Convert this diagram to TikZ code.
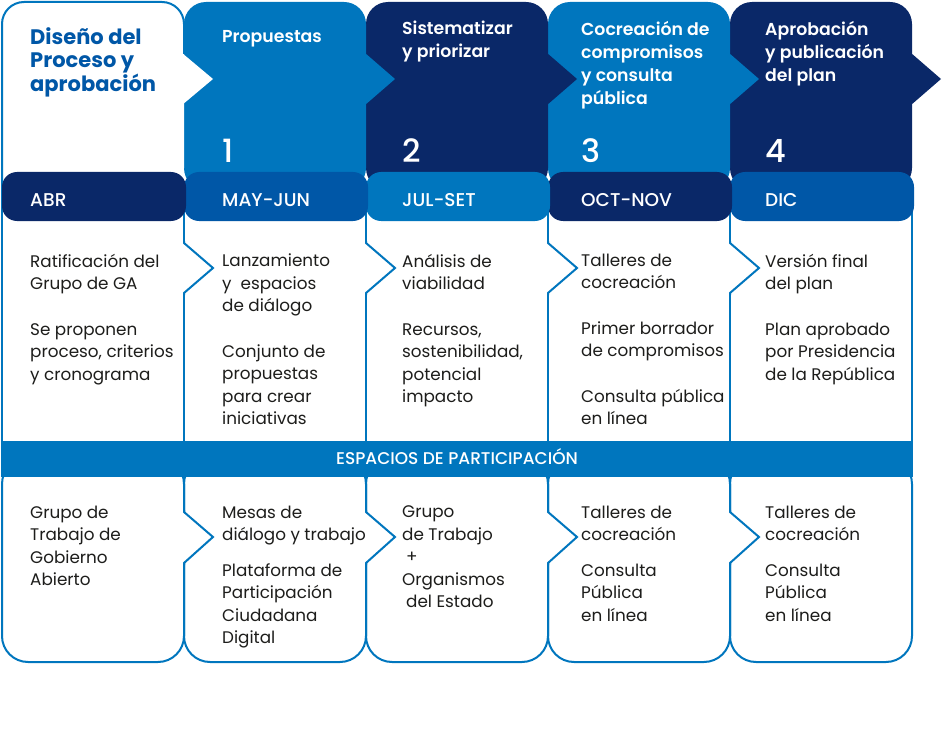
\documentclass[tikz,border=0pt]{standalone}
\usepackage{fontspec}
\setmainfont{Poppins}
\newfontfamily\popmed{Poppins Medium}
\newfontfamily\popsemi{Poppins SemiBold}
\definecolor{gablue}{RGB}{0,118,190}
\definecolor{ganavy}{RGB}{10,40,104}
\definecolor{gamid}{RGB}{0,87,167}
\definecolor{gatext}{RGB}{29,29,27}
\tikzset{
  cellbox/.style={draw=gablue, line width=2pt, fill=white},
  chevline/.style={draw=gablue, line width=2pt, line join=miter},
  hdrzero/.style={anchor=north west, inner sep=0pt, align=left, yshift=16.1pt,
    text=gamid, font=\bfseries\fontsize{21}{23}\selectfont, execute at begin node=\strut},
  hdrtext/.style={anchor=north west, inner sep=0pt, align=left, yshift=16.1pt,
    text=white, font=\popsemi\fontsize{17.3}{23}\selectfont, execute at begin node=\strut},
  bodytext/.style={anchor=north west, inner sep=0pt, align=left, yshift=15.75pt,
    text=gatext, font=\fontsize{16.8}{22.5}\selectfont, execute at begin node=\strut},
  montext/.style={anchor=base west, inner sep=0pt, text=white, font=\popmed\fontsize{18.5}{22}\selectfont},
  numtext/.style={anchor=base west, inner sep=0pt, text=white, font=\popmed\fontsize{32}{36}\selectfont},
  parttext/.style={anchor=base, inner sep=0pt, text=white, font=\popmed\fontsize{17}{20}\selectfont}
}
\begin{document}
\begin{tikzpicture}[x=1pt,y=-1pt]
\useasboundingbox (0,0) rectangle (943,733);

% body cells, right to left so each chevron lies on top of the next cell
\foreach \i in {4,3,2,1,0}{
  \pgfmathsetmacro\xl{2+182*\i}
  \pgfmathsetmacro\xr{184+182*\i}
  \path[cellbox] (\xl,190) rectangle (\xr,450);
  \path[cellbox, rounded corners=26pt] (\xl,458) rectangle (\xr,662);
  \ifnum\i<4
    \fill[white] (\xr-2,243) -- (\xr,243) -- (\xr+29,268) -- (\xr,293) -- (\xr-2,293) -- cycle;
    \draw[chevline] (\xr,241) -- (\xr,243) -- (\xr+29,268) -- (\xr,293) -- (\xr,295);
    \fill[white] (\xr-2,512) -- (\xr,512) -- (\xr+29,537) -- (\xr,563) -- (\xr-2,563) -- cycle;
    \draw[chevline] (\xr,510) -- (\xr,512) -- (\xr+29,537) -- (\xr,563) -- (\xr,565);
  \fi
}

% stage headers
\foreach \i/\col in {4/ganavy,3/gablue,2/ganavy,1/gablue}{
  \pgfmathsetmacro\xl{2+182*\i}
  \pgfmathsetmacro\xr{184+182*\i}
  \fill[\col, rounded corners=22pt] (\xl,2) rectangle (\xr,190);
  \fill[\col] (\xr-1,53) -- (\xr+29,79) -- (\xr-1,105) -- cycle;
}
\fill[white, rounded corners=22pt] (2,2) rectangle (184,190);
\draw[chevline, rounded corners=22pt] (2,190) -- (2,2) -- (184,2) -- (184,54);
\fill[white] (182,53) -- (213,79) -- (182,105) -- cycle;

% month bars
\foreach \i/\col in {4/gamid,3/ganavy,2/gablue,1/gamid,0/ganavy}{
  \pgfmathsetmacro\xl{2+182*\i}
  \pgfmathsetmacro\xr{186+182*\i}
  \fill[\col, rounded corners=15pt] (\xl,172) rectangle (\xr,221);
}

% participation bar
\fill[gablue] (1,441) rectangle (913,477);
\node[parttext] (part) at (457,464) {ESPACIOS DE PARTICIPACIÓN};

% header texts
\node[hdrzero] (hd0) at (30,44) {Diseño del\\Proceso y\\aprobación};
\node[hdrtext] (hd1) at (222,42) {Propuestas};
\node[hdrtext] (hd2) at (402,37) {Sistematizar\\y priorizar};
\node[hdrtext] (hd3) at (581,37) {Cocreación de\\compromisos\\y consulta\\pública};
\node[hdrtext] (hd4) at (765,37) {Aprobación\\y publicación\\del plan};

\foreach \x/\n in {222/1,402/2,581/3,765/4}
  \node[numtext] (num\n) at (\x,163) {\n};
\foreach \x/\m/\k in {30/ABR/0,222/MAY-JUN/1,402/JUL-SET/2,581/OCT-NOV/3,765/DIC/4}
  \node[montext] (mon\k) at (\x,207) {\m};

% activities
\node[bodytext] (tp0) at (30,269.5) {Ratificación del\\Grupo de GA\\[23pt]Se proponen\\proceso, criterios\\y cronograma};
\node[bodytext] (tp1) at (222,269.5) {Lanzamiento\\y\ \ espacios\\de diálogo\\[23pt]Conjunto de\\propuestas\\para crear\\iniciativas};
\node[bodytext] (tp2) at (402,269.5) {Análisis de\\viabilidad\\[23pt]Recursos,\\sostenibilidad,\\potencial\\impacto};
\node[bodytext] (tp3) at (581,269.5) {Talleres de\\cocreación\\[23pt]Primer borrador\\de compromisos\\[23pt]Consulta pública\\en línea};
\node[bodytext] (tp4) at (765,269.5) {Versión final\\del plan\\[23pt]Plan aprobado\\por Presidencia\\de la República};

% participation spaces
\node[bodytext] (bt0) at (30,521.5) {Grupo de\\Trabajo de\\Gobierno\\Abierto};
\node[bodytext] (bt1) at (222,521.5) {Mesas de\\diálogo y trabajo\\[13pt]Plataforma de\\Participación\\Ciudadana\\Digital};
\node[bodytext] (bt2) at (402,521.5) {Grupo\\de Trabajo\\\hspace{4pt}+\\Organismos\\\hspace{4pt}del Estado};
\node[bodytext] (bt3) at (581,521.5) {Talleres de\\cocreación\\[13pt]Consulta\\Pública\\en línea};
\node[bodytext] (bt4) at (765,521.5) {Talleres de\\cocreación\\[13pt]Consulta\\Pública\\en línea};
\end{tikzpicture}
\end{document}
